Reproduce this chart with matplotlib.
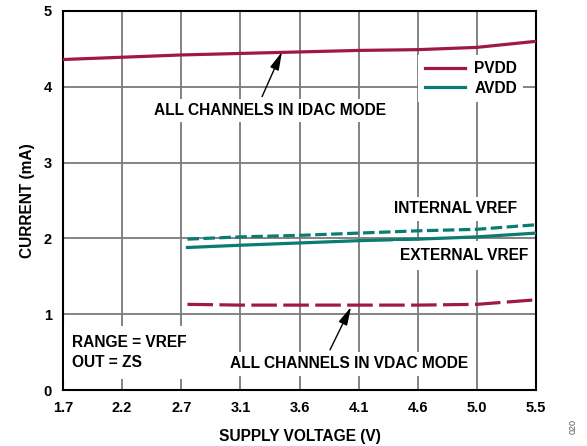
import numpy as np
import matplotlib
matplotlib.use("Agg")
import matplotlib.pyplot as plt
from matplotlib.lines import Line2D

plt.rcParams['font.family'] = ['Liberation Sans', 'DejaVu Sans']
plt.rcParams['font.weight'] = 'bold'

# Supply voltage axis (evenly spaced ticks, rounded labels)
x_ticks = np.linspace(1.7, 5.5, 9)
x_tick_labels = ["1.7", "2.2", "2.7", "3.1", "3.6", "4.1", "4.6", "5.0", "5.5"]

# PVDD current, all channels in IDAC mode
pvdd_idac_v = [1.7, 2.175, 2.65, 3.125, 3.6, 4.075, 4.55, 5.025, 5.5]
pvdd_idac_ma = [4.36, 4.39, 4.42, 4.44, 4.46, 4.48, 4.49, 4.52, 4.60]

# PVDD current, all channels in VDAC mode
pvdd_vdac_v = [2.7, 3.125, 3.6, 4.075, 4.55, 5.025, 5.5]
pvdd_vdac_ma = [1.13, 1.12, 1.12, 1.12, 1.12, 1.13, 1.19]

# AVDD current, internal reference
avdd_int_v = [2.7, 3.125, 3.6, 4.075, 4.55, 5.025, 5.5]
avdd_int_ma = [1.99, 2.02, 2.04, 2.07, 2.10, 2.12, 2.18]

# AVDD current, external reference
avdd_ext_v = [2.7, 3.125, 3.6, 4.075, 4.55, 5.025, 5.5]
avdd_ext_ma = [1.88, 1.91, 1.94, 1.97, 1.99, 2.02, 2.07]

PV_COLOR = "#A01848"
AV_COLOR = "#0A7C74"
FS = 11.2

fig = plt.figure(figsize=(5.87, 4.46), dpi=100)
ax = fig.add_axes([63 / 587, 56 / 446, 473 / 587, 379 / 446])

ax.plot(pvdd_idac_v, pvdd_idac_ma, color=PV_COLOR, lw=2.3, zorder=3)
ax.plot(pvdd_vdac_v, pvdd_vdac_ma, color=PV_COLOR, lw=2.3, dashes=(8.0, 2.0), zorder=3)
ax.plot(avdd_int_v, avdd_int_ma, color=AV_COLOR, lw=2.3, dashes=(3.6, 1.4), zorder=3)
ax.plot(avdd_ext_v, avdd_ext_ma, color=AV_COLOR, lw=2.3, zorder=3)

ax.set_xlim(1.7, 5.5)
ax.set_ylim(0, 5)
ax.set_xticks(x_ticks)
ax.set_xticklabels(x_tick_labels)
ax.set_yticks([0, 1, 2, 3, 4, 5])
ax.tick_params(length=0, labelsize=10.5, pad=8)
for lbl in ax.get_xticklabels() + ax.get_yticklabels():
    lbl.set_fontweight('bold')
ax.grid(True, color="#7a7a7a", lw=1.3, zorder=0)
ax.set_axisbelow(True)
for s in ax.spines.values():
    s.set_linewidth(1.5)
    s.set_color("black")

ax.set_xlabel("SUPPLY VOLTAGE (V)", fontsize=FS, fontweight='bold', labelpad=10)
ax.set_ylabel("CURRENT (mA)", fontsize=FS, fontweight='bold', labelpad=6)

box = dict(facecolor="white", edgecolor="none", pad=3)
arrow = dict(arrowstyle="-|>,head_length=1.1,head_width=0.28", color="black", lw=1.0,
             shrinkA=0, shrinkB=0)

# IDAC mode label and pointer
ax.text(3.367, 3.69, "ALL CHANNELS IN IDAC MODE", ha="center", va="center",
        fontsize=FS, fontweight='bold', bbox=box, zorder=5)
ax.annotate("", xy=(3.459, 4.46), xytext=(3.299, 3.87), arrowprops=arrow, zorder=6)

# VDAC mode label and pointer
ax.text(3.998, 0.345, "ALL CHANNELS IN VDAC MODE", ha="center", va="center",
        fontsize=FS, fontweight='bold', bbox=box, zorder=5)
ax.annotate("", xy=(4.014, 1.095), xytext=(3.845, 0.53), arrowprops=arrow, zorder=6)

ax.text(5.347, 2.39, "INTERNAL VREF", ha="right", va="center", fontsize=FS,
        fontweight='bold', bbox=box, zorder=5)
ax.text(5.436, 1.78, "EXTERNAL VREF", ha="right", va="center", fontsize=FS,
        fontweight='bold', bbox=dict(facecolor="white", edgecolor="none", pad=5), zorder=5)
ax.text(1.772, 0.495, "RANGE = VREF\nOUT = ZS", ha="left", va="center", fontsize=FS,
        fontweight='bold', linespacing=1.45,
        bbox=dict(facecolor="white", edgecolor="none", pad=6), zorder=5)

handles = [Line2D([], [], color=PV_COLOR, lw=2.3), Line2D([], [], color=AV_COLOR, lw=2.3)]
leg = ax.legend(handles, ["PVDD", "AVDD"], loc="upper right", bbox_to_anchor=(0.99, 0.905),
                frameon=True, framealpha=1, facecolor="white", edgecolor="none",
                fancybox=False, handlelength=2.6, handletextpad=0.6, labelspacing=0.3,
                borderpad=0.4, prop=dict(weight='bold', size=FS))
leg.set_zorder(5)

fig.text(573 / 587, 1 - 427 / 446, "020", rotation=90, fontsize=6.5, color="#555555",
         ha="center", va="center", fontweight='normal')

fig.savefig("out.png", dpi=100)
